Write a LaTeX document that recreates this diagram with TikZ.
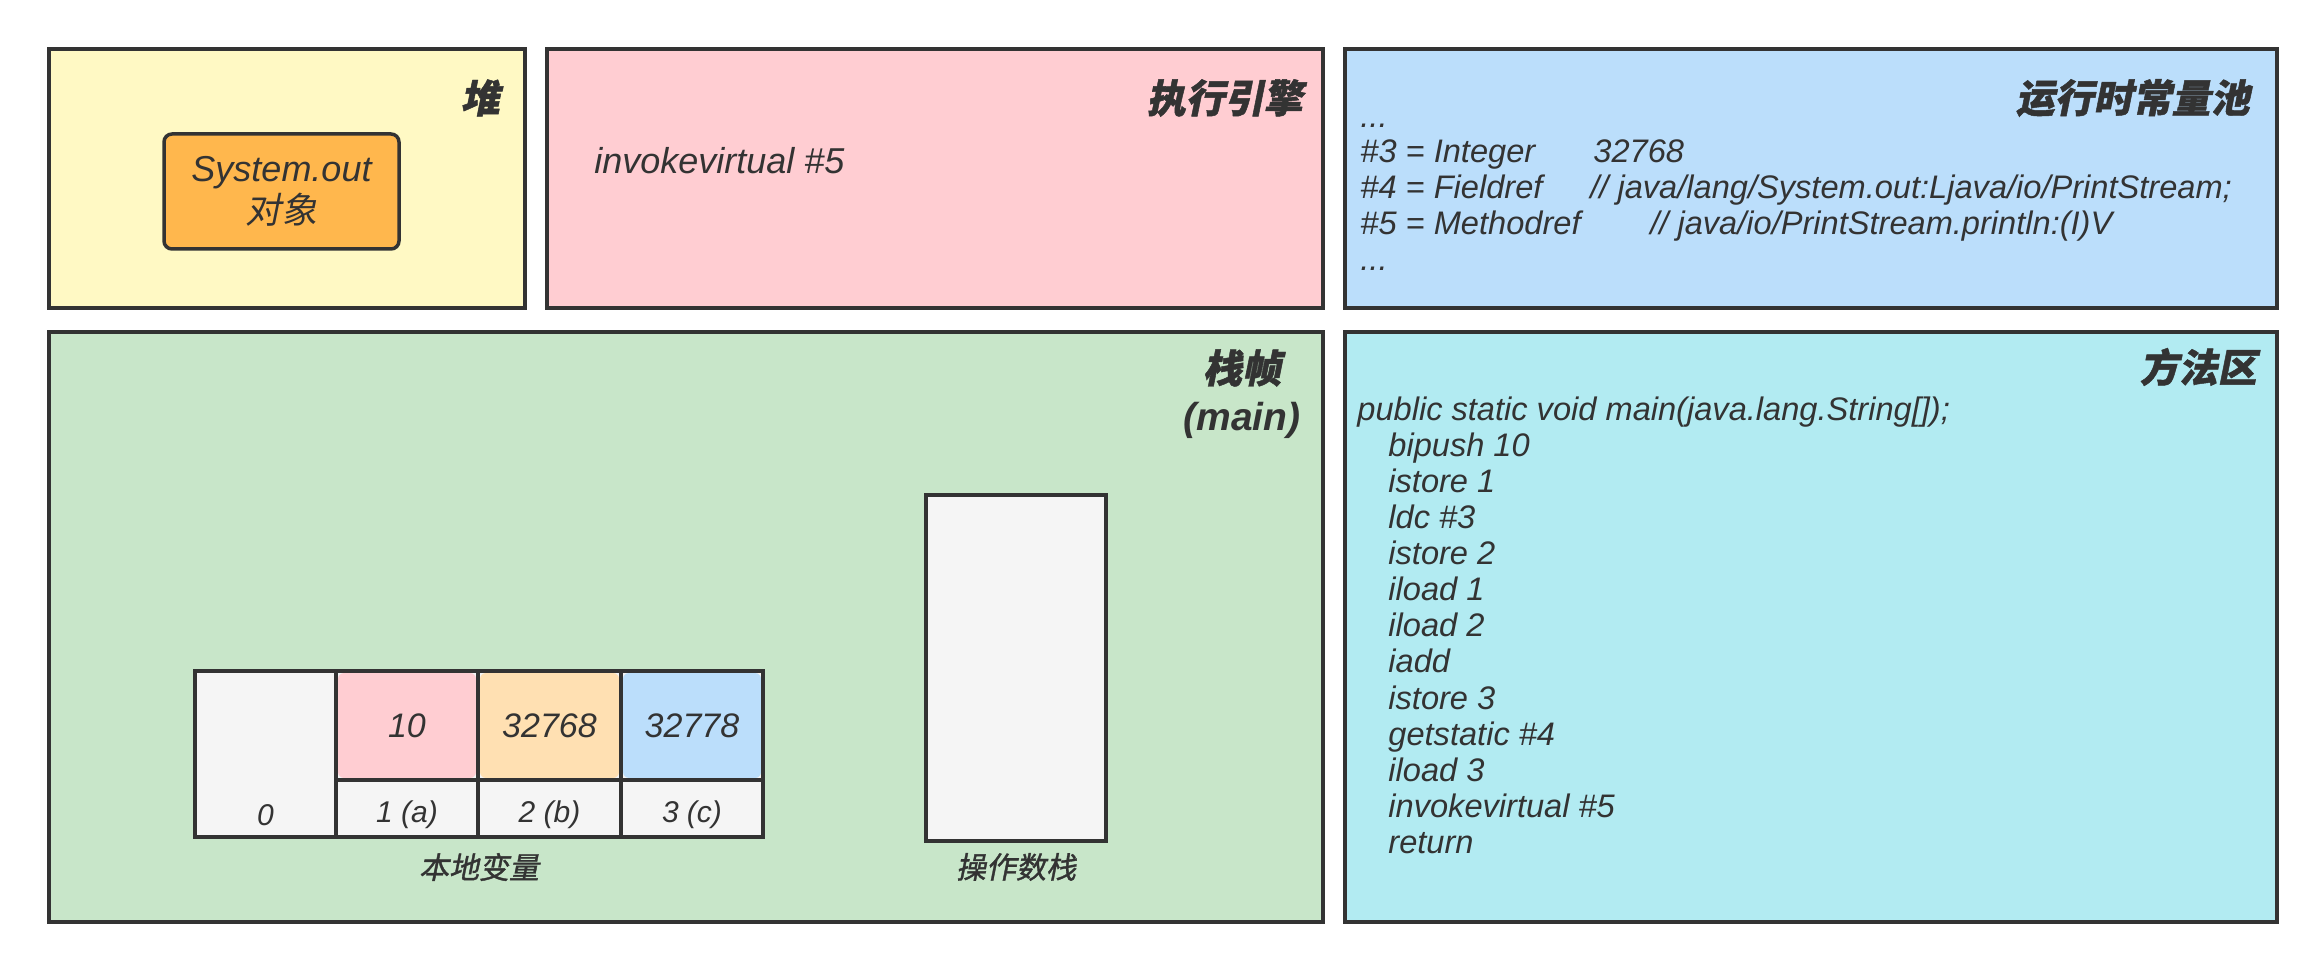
\documentclass[tikz,border=0pt]{standalone}
\usepackage{fontspec}
\setmainfont{Liberation Sans}
\newfontfamily\zhfont{Noto Sans CJK SC}[FakeSlant=0.2]
\newfontfamily\zhboldfont{Noto Sans CJK SC}[FakeSlant=0.2,FakeBold=1.2]
\newcommand{\zh}[1]{{\zhfont #1}}
\newcommand{\zhb}[1]{{\zhboldfont #1}}

\definecolor{ink}{HTML}{333333}
\definecolor{heapfill}{HTML}{FFF9C4}
\definecolor{execfill}{HTML}{FFCDD2}
\definecolor{poolfill}{HTML}{BBDEFB}
\definecolor{framefill}{HTML}{C8E6C9}
\definecolor{methodfill}{HTML}{B2EBF2}
\definecolor{objfill}{HTML}{FFB74D}
\definecolor{cellgray}{HTML}{F5F5F5}
\definecolor{orangecell}{HTML}{FFE0B2}

\begin{document}
\begin{tikzpicture}[x=0.5pt,y=-0.5pt,
    panel/.style={draw=ink,line width=1.75pt},
    title/.style={anchor=east,inner sep=0pt,text=ink,
        font=\fontsize{19.5}{22}\selectfont\bfseries\itshape},
    code/.style={anchor=base west,inner sep=0pt,text=ink,
        font=\fontsize{16.3}{18}\selectfont\itshape},
    val/.style={text=ink,font=\fontsize{17}{20}\selectfont\itshape},
    idx/.style={text=ink,font=\fontsize{15}{18}\selectfont\itshape},
    caption/.style={text=ink,font=\fontsize{15}{18}\selectfont}]
    \useasboundingbox (0,0) rectangle (2324,972);

    \draw[panel,fill=heapfill] (49,49) rectangle (525,308);
    \draw[panel,fill=execfill] (547,49) rectangle (1323,308);
    \draw[panel,fill=poolfill] (1345,49) rectangle (2277,308);
    \draw[panel,fill=framefill] (49,332) rectangle (1323,922);
    \draw[panel,fill=methodfill] (1345,332) rectangle (2277,922);

    \node[title] (heaptitle) at (500,98) {\zhb{堆}};
    \node[title] (exectitle) at (1303,98) {\zhb{执行引擎}};
    \node[title] (pooltitle) at (2250,98) {\zhb{运行时常量池}};
    \node[title] (methodtitle) at (2257,367) {\zhb{方法区}};
    \node[title,anchor=center] (frametitle) at (1242,368) {\zhb{栈帧}};
    \node[title,anchor=center] (framesub) at (1242,420) {(main)};

    % heap object
    \node[panel,fill=objfill,rounded corners=4pt,
        minimum width=117.5pt,minimum height=57.5pt,align=center,
        text=ink,font=\fontsize{18}{21}\selectfont\itshape]
        (sysout) at (281.5,191.5) {System.out\\\zh{对象}};

    \node[code,font=\fontsize{18}{20}\selectfont\itshape]
        (execop) at (594,174) {invokevirtual \#5};

    % constant pool
    \node[code] (pooltop) at (1360,128) {...};
    \node[code] (pool3) at (1360,163)
        {\makebox[116.5pt][l]{\#3 = Integer}32768};
    \node[code] (pool4) at (1360,199)
        {\makebox[115pt][l]{\#4 = Fieldref}// java/lang/System.out:Ljava/io/PrintStream;};
    \node[code] (pool5) at (1360,235)
        {\makebox[145pt][l]{\#5 = Methodref}// java/io/PrintStream.println:(I)V};
    \node[code] (poolend) at (1360,271) {...};

    % method area
    \node[code] (sig) at (1357,421) {public static void main(java.lang.String[]);};
    \foreach \op [count=\i] in {bipush 10, istore 1, ldc \#3, istore 2,
        iload 1, iload 2, iadd, istore 3, getstatic \#4, iload 3,
        invokevirtual \#5, return}
        \node[code] (op\i) at (1388,{421+36*\i}) {\op};

    % local variables
    \fill[cellgray] (195,671) rectangle (763,837);
    \fill[execfill,rounded corners=3pt] (338,673) rectangle (476,778);
    \fill[orangecell,rounded corners=3pt] (480,673) rectangle (619,778);
    \fill[poolfill,rounded corners=3pt] (623,673) rectangle (761,778);
    \foreach \x in {336,478,621}
        \draw[ink,line width=1.75pt] (\x,671) -- (\x,837);
    \draw[ink,line width=1.75pt] (336,780) -- (763,780);
    \draw[panel] (195,671) rectangle (763,837);

    \node[val] (v1) at (407,726) {10};
    \node[val] (v2) at (549.5,726) {32768};
    \node[val] (v3) at (692,726) {32778};
    \node[idx] (i0) at (265.5,815) {0};
    \node[idx] (i1) at (407,815) {1 (a)};
    \node[idx] (i2) at (549.5,815) {2 (b)};
    \node[idx] (i3) at (692,815) {3 (c)};
    \node[caption] (localcap) at (479,867) {\zhb{本地变量}};

    % operand stack
    \draw[panel,fill=cellgray] (926,495) rectangle (1106,841);
    \node[caption] (stackcap) at (1016,867) {\zhb{操作数栈}};
\end{tikzpicture}
\end{document}
